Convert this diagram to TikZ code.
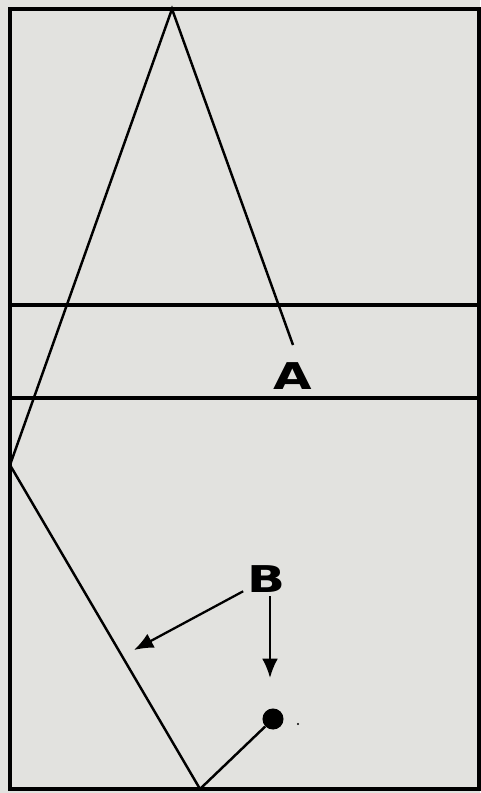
\documentclass[tikz,border=0pt]{standalone}
\usepackage{fontspec}
\setmainfont{DejaVu Sans}
\usetikzlibrary{arrows.meta}
\definecolor{paper}{RGB}{226,226,223}
\begin{document}
\begin{tikzpicture}[x=0.02cm, y=-0.02cm,
    frame/.style={line width=1.8pt},
    edge/.style={line width=1.4pt},
    letter/.style={font=\fontsize{21}{21}\selectfont\bfseries, inner sep=2pt},
    pointer/.style={line width=1.3pt, -{Latex[length=11pt, width=9pt]}}]
  % Paper
  \fill[paper] (0,0) rectangle (480,793);
  \useasboundingbox (0,0) rectangle (480,793);
  % Frame and bands
  \draw[frame] (10,9) rectangle (479,789);
  \draw[frame] (10,305) -- (479,305);
  \draw[frame] (10,398) -- (479,398);
  % Corners of the path
  \coordinate (apex) at (172,9);
  \coordinate (wall) at (10,465);
  \coordinate (floor) at (200,789);
  \coordinate (hit) at (134,650);
  \coordinate (drop) at (270,678);
  % Labels and ball
  \node[letter] (A) at (293,376) {\scalebox{1.35}[1]{A}};
  \node[letter] (B) at (266,579) {\scalebox{1.35}[1]{B}};
  \node[circle, fill, inner sep=0pt, minimum size=12pt] (ball) at (273,719) {};
  \fill (298,724) circle (0.6pt);
  % Path
  \path (A) ++(0,-31) coordinate (tipA);
  \draw[edge] (tipA) -- (apex) -- (wall) -- (floor) -- (ball);
  % Pointers
  \draw[pointer] (B) -- (hit);
  \draw[pointer] (B.south -| drop) -- (drop);
\end{tikzpicture}
\end{document}
